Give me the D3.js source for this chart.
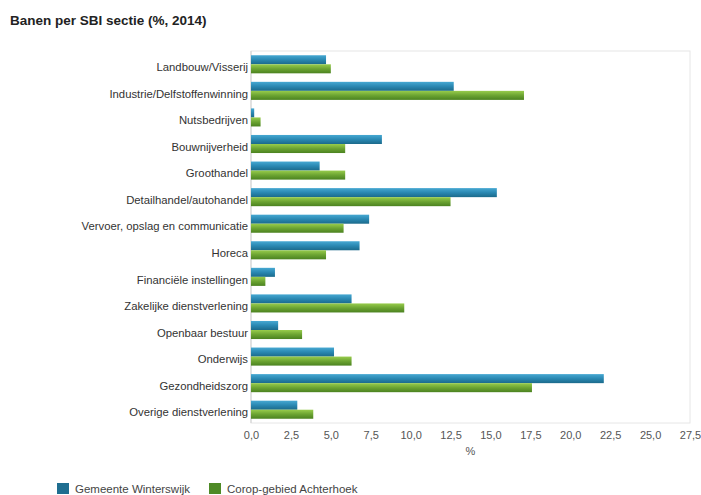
<!DOCTYPE html>
<html>
<head>
<meta charset="utf-8">
<script src="https://cdn.jsdelivr.net/npm/d3@7"></script>
<style>
  body { margin: 0; background: #fff; }
  text { font-family: "Liberation Sans", Arial, sans-serif; }
</style>
</head>
<body>
<div id="app"></div>
<script>
const categories = [
  'Landbouw/Visserij', 'Industrie/Delfstoffenwinning', 'Nutsbedrijven', 'Bouwnijverheid',
  'Groothandel', 'Detailhandel/autohandel', 'Vervoer, opslag en communicatie', 'Horeca',
  'Financiële instellingen', 'Zakelijke dienstverlening', 'Openbaar bestuur', 'Onderwijs',
  'Gezondheidszorg', 'Overige dienstverlening'
];
const winterswijk = [4.7, 12.7, 0.2, 8.2, 4.3, 15.4, 7.4, 6.8, 1.5, 6.3, 1.7, 5.2, 22.1, 2.9];
const achterhoek = [5.0, 17.1, 0.6, 5.9, 5.9, 12.5, 5.8, 4.7, 0.9, 9.6, 3.2, 6.3, 17.6, 3.9];
const seriesNames = ['Gemeente Winterswijk', 'Corop-gebied Achterhoek'];
const xTicks = [0, 2.5, 5, 7.5, 10, 12.5, 15, 17.5, 20, 22.5, 25, 27.5];

const W = 701, H = 495;
const plotL = 251, plotR = 690, plotT = 51, plotB = 423;
const FONT = '"Liberation Sans", Arial, sans-serif';

const svg = d3.select('#app').append('svg')
  .attr('width', W).attr('height', H);

const defs = svg.append('defs');
const grads = [
  { id: 'gBlue', c: ['#46a8d2', '#2a88b2', '#1b6a8b'] },
  { id: 'gGreen', c: ['#98cc4c', '#6ca432', '#4b8220'] }
];
grads.forEach(g => {
  const lg = defs.append('linearGradient').attr('id', g.id)
    .attr('x1', 0).attr('y1', 0).attr('x2', 0).attr('y2', 1);
  lg.append('stop').attr('offset', '0%').attr('stop-color', g.c[0]);
  lg.append('stop').attr('offset', '50%').attr('stop-color', g.c[1]);
  lg.append('stop').attr('offset', '100%').attr('stop-color', g.c[2]);
});

svg.append('text')
  .attr('x', 10).attr('y', 25)
  .attr('font-size', 13.5).attr('font-weight', 'bold').attr('fill', '#222')
  .text('Banen per SBI sectie (%, 2014)');

const x = d3.scaleLinear().domain([0, 27.5]).range([plotL, plotR]);
const y = d3.scaleBand().domain(categories).range([plotT, plotB])
  .paddingInner(0.32).paddingOuter(0.16);
const ySub = d3.scaleBand().domain([0, 1]).range([0, y.bandwidth()]);

// frame
svg.append('rect')
  .attr('x', plotL).attr('y', plotT)
  .attr('width', plotR - plotL).attr('height', plotB - plotT)
  .attr('fill', 'none').attr('stroke', '#e6e6e6');
svg.append('line')
  .attr('x1', plotL).attr('x2', plotL).attr('y1', plotT).attr('y2', plotB)
  .attr('stroke', '#d0d0d0');

const rows = categories.map((c, i) => ({ c, v: [winterswijk[i], achterhoek[i]] }));

const g = svg.append('g');
rows.forEach(r => {
  r.v.forEach((v, s) => {
    g.append('rect')
      .attr('x', x(0))
      .attr('y', y(r.c) + ySub(s))
      .attr('width', x(v) - x(0))
      .attr('height', ySub.bandwidth())
      .attr('fill', s === 0 ? 'url(#gBlue)' : 'url(#gGreen)');
  });
});

// y axis labels
svg.append('g')
  .attr('transform', `translate(${plotL},0)`)
  .call(d3.axisLeft(y).tickSize(0).tickPadding(3))
  .call(a => a.select('.domain').remove())
  .call(a => a.selectAll('text')
    .attr('font-family', FONT)
    .attr('font-size', 11.3).attr('fill', '#333').attr('dy', '0.6em'));

// x axis
const fmt = d3.format('.1f');
svg.append('g')
  .attr('transform', `translate(0,${plotB})`)
  .call(d3.axisBottom(x).tickValues(xTicks).tickSize(0).tickPadding(8)
    .tickFormat(d => fmt(d).replace('.', ',')))
  .call(a => a.select('.domain').remove())
  .call(a => a.selectAll('text')
    .attr('font-family', FONT)
    .attr('font-size', 11).attr('fill', '#555'));

svg.append('text')
  .attr('x', (plotL + plotR) / 2).attr('y', 455)
  .attr('text-anchor', 'middle').attr('font-size', 11).attr('fill', '#555')
  .text('%');

// legend
const legendColors = ['#1f6e90', '#4e8a26'];
const legendX = [57, 209];
seriesNames.forEach((n, i) => {
  svg.append('rect')
    .attr('x', legendX[i]).attr('y', 483)
    .attr('width', 12).attr('height', 11)
    .attr('fill', legendColors[i]);
  svg.append('text')
    .attr('x', legendX[i] + 18).attr('y', 493)
    .attr('font-size', 11.5).attr('fill', '#444')
    .text(n);
});
</script>
</body>
</html>
